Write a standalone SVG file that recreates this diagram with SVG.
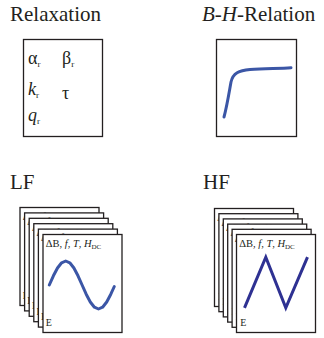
<svg xmlns="http://www.w3.org/2000/svg" xmlns:xlink="http://www.w3.org/1999/xlink" width="324" height="338" viewBox="0 0 324 338">
<style>
.title{font-family:"Liberation Serif",serif;font-size:21px;fill:#231f20}
.sym{font-family:"Liberation Serif",serif;font-size:18px;fill:#231f20}
.sub{font-size:9px}
.box{fill:#fff;stroke:#231f20;stroke-width:1.3}
.lbl{font-family:"Liberation Serif",serif;font-size:10.5px;fill:#231f20}
.e{font-family:"Liberation Serif",serif;font-size:10px;fill:#231f20}
.curve{fill:none;stroke:#3b56a6;stroke-width:3;stroke-linecap:round;stroke-linejoin:round}
.tri{fill:none;stroke:#2e3192;stroke-width:3;stroke-linecap:butt;stroke-linejoin:miter}
</style>
<defs>
<g id="lfcard">
<rect class="box" x="0" y="0" width="79" height="98"/>
<text class="lbl" x="2.7" y="12.3">ΔB, <tspan font-style="italic">f</tspan>, <tspan font-style="italic">T</tspan>, <tspan font-style="italic">H</tspan><tspan font-size="7" dy="2">DC</tspan></text>
<polyline class="curve" points="6.3,50.5 10.4,41.3 14.5,33.5 18.6,28.3 22.7,26.5 26.8,28.3 30.9,33.5 35,41.3 39.1,50.5 43.2,59.7 47.3,67.5 51.4,72.7 55.5,74.5 59.6,72.7 63.7,67.5 67.8,59.7 71.3,52"/>
<text class="e" x="2.7" y="91">E</text>
</g>
<g id="hfcard">
<rect class="box" x="0" y="0" width="79" height="98"/>
<text class="lbl" x="2.7" y="12.3">ΔB, <tspan font-style="italic">f</tspan>, <tspan font-style="italic">T</tspan>, <tspan font-style="italic">H</tspan><tspan font-size="7" dy="2">DC</tspan></text>
<polyline class="tri" points="8,73.3 29.3,22.7 49.3,73.3 71,22.7"/>
<text class="e" x="3.7" y="91">E</text>
</g>
</defs>

<g id="relaxation">
<text class="title" x="10" y="20.5">Relaxation</text>
<rect class="box" x="23.5" y="39.5" width="79" height="97"/>
<text class="sym" x="28" y="64">α<tspan class="sub" dy="3">r</tspan></text>
<text class="sym" x="62" y="64">β<tspan class="sub" dy="3">r</tspan></text>
<text class="sym" x="28" y="95" font-style="italic">k<tspan class="sub" font-style="normal" dy="3">r</tspan></text>
<text class="sym" x="62" y="99">τ</text>
<text class="sym" x="28" y="121" font-style="italic">q<tspan class="sub" font-style="normal" dy="3">r</tspan></text>
</g>

<g id="bh-relation">
<text class="title" x="202" y="20.5"><tspan font-style="italic">B</tspan>-<tspan font-style="italic">H</tspan>-Relation</text>
<rect class="box" x="216.5" y="39.5" width="80" height="97"/>
<path class="curve" d="M224,117 C227,106 229,93 231,82 C233,73 239,70.5 250,69.5 C265,68.5 280,68.5 291,67.7"/>
</g>

<g id="lf">
<text class="title" x="10" y="189">LF</text>
<use xlink:href="#lfcard" x="20" y="207.5"/>
<use xlink:href="#lfcard" x="24.6" y="212.9"/>
<use xlink:href="#lfcard" x="29.2" y="218.3"/>
<use xlink:href="#lfcard" x="33.8" y="223.7"/>
<use xlink:href="#lfcard" x="38.4" y="229.1"/>
<use xlink:href="#lfcard" x="43" y="234.5"/>
</g>

<g id="hf">
<text class="title" x="203" y="189">HF</text>
<use xlink:href="#hfcard" x="214.5" y="208.5"/>
<use xlink:href="#hfcard" x="218.9" y="213.7"/>
<use xlink:href="#hfcard" x="223.3" y="218.9"/>
<use xlink:href="#hfcard" x="227.7" y="224.1"/>
<use xlink:href="#hfcard" x="232.1" y="229.3"/>
<use xlink:href="#hfcard" x="236.5" y="234.5"/>
</g>

<g id="connectors"></g>
</svg>
